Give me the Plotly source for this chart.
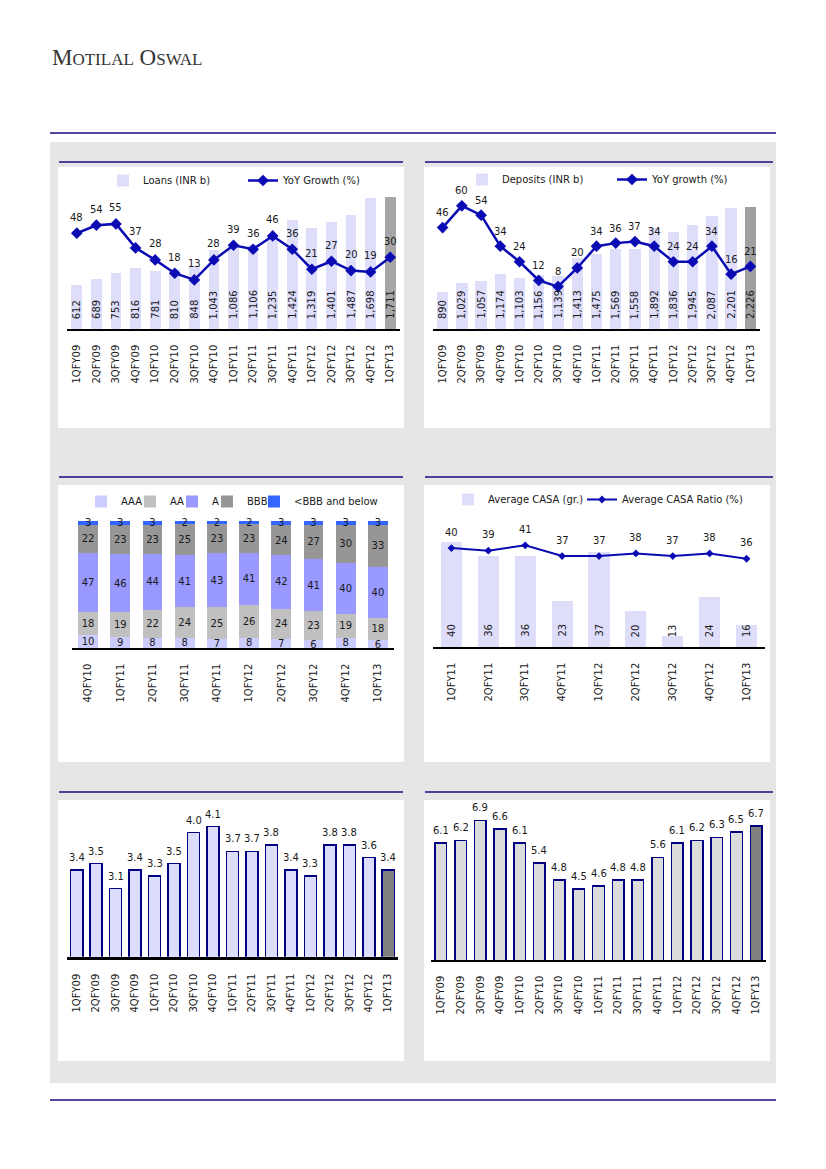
import plotly.graph_objects as go

W, H = 826, 1169


def px(x):
    return x / W


def py(y):
    return 1 - y / H


# ---------------- data ----------------
quarters17 = ["1QFY09", "2QFY09", "3QFY09", "4QFY09", "1QFY10", "2QFY10", "3QFY10", "4QFY10",
              "1QFY11", "2QFY11", "3QFY11", "4QFY11", "1QFY12", "2QFY12", "3QFY12", "4QFY12", "1QFY13"]
loans = [612, 689, 753, 816, 781, 810, 848, 1043, 1086, 1106, 1235, 1424, 1319, 1401, 1487, 1698, 1711]
loan_growth = [48, 54, 55, 37, 28, 18, 13, 28, 39, 36, 46, 36, 21, 27, 20, 19, 30]
deposits = [890, 1029, 1057, 1174, 1103, 1156, 1139, 1413, 1475, 1569, 1558, 1892, 1836, 1945, 2087, 2201, 2226]
deposit_growth = [46, 60, 54, 34, 24, 12, 8, 20, 34, 36, 37, 34, 24, 24, 34, 16, 21]

rating_quarters = ["4QFY10", "1QFY11", "2QFY11", "3QFY11", "4QFY11", "1QFY12", "2QFY12", "3QFY12", "4QFY12", "1QFY13"]
rating_names = ["AAA", "AA", "A", "BBB", "<BBB and below"]
rating_aaa = [10, 9, 8, 8, 7, 8, 7, 6, 8, 6]
rating_aa = [18, 19, 22, 24, 25, 26, 24, 23, 19, 18]
rating_a = [47, 46, 44, 41, 43, 41, 42, 41, 40, 40]
rating_bbb = [22, 23, 23, 25, 23, 23, 24, 27, 30, 33]
rating_below = [3, 3, 3, 2, 2, 2, 3, 3, 3, 3]

casa_quarters = ["1QFY11", "2QFY11", "3QFY11", "4QFY11", "1QFY12", "2QFY12", "3QFY12", "4QFY12", "1QFY13"]
casa_growth = [40, 36, 36, 23, 37, 20, 13, 24, 16]
casa_ratio = [40, 39, 41, 37, 37, 38, 37, 38, 36]

left_bottom_vals = [3.4, 3.5, 3.1, 3.4, 3.3, 3.5, 4.0, 4.1, 3.7, 3.7, 3.8, 3.4, 3.3, 3.8, 3.8, 3.6, 3.4]
right_bottom_vals = [6.1, 6.2, 6.9, 6.6, 6.1, 5.4, 4.8, 4.5, 4.6, 4.8, 4.8, 5.6, 6.1, 6.2, 6.3, 6.5, 6.7]

# ---------------- styles ----------------
FONT = "DejaVu Sans"
TXT = "#1a1a1a"
NAVY = "#170a7e"
LINE_BLUE = "#0b0bb4"
LAV = "#dedefa"

fig = go.Figure()

# ---- chart 1: loans ----
c1_colors = [LAV] * (len(loans) - 1) + ["#a6a6a6"]
fig.add_trace(go.Bar(x=quarters17, y=loans, name="Loans (INR b)", marker=dict(color=c1_colors, line=dict(width=0)),
                     width=0.55, xaxis="x", yaxis="y", legend="legend", hoverinfo="skip"))
fig.add_trace(go.Scatter(x=quarters17, y=loan_growth, name="YoY Growth (%)", mode="lines+markers",
                         line=dict(color=LINE_BLUE, width=2.5), marker=dict(symbol="diamond", size=9, color=LINE_BLUE),
                         xaxis="x", yaxis="y2", legend="legend2", cliponaxis=False))

# ---- chart 2: deposits ----
c2_colors = [LAV] * (len(deposits) - 1) + ["#a0a0a0"]
fig.add_trace(go.Bar(x=quarters17, y=deposits, name="Deposits (INR b)", marker=dict(color=c2_colors, line=dict(width=0)),
                     width=0.59, xaxis="x2", yaxis="y3", legend="legend3"))
fig.add_trace(go.Scatter(x=quarters17, y=deposit_growth, name="YoY growth (%)", mode="lines+markers",
                         line=dict(color=LINE_BLUE, width=2.5), marker=dict(symbol="diamond", size=9, color=LINE_BLUE),
                         xaxis="x2", yaxis="y4", legend="legend4", cliponaxis=False))

# ---- chart 3: rating mix ----
rating_series = [rating_aaa, rating_aa, rating_a, rating_bbb, rating_below]
rating_colors = ["#ccccff", "#c0c0c0", "#9999ff", "#969696", "#3366ff"]
for i, (nm, vals, col) in enumerate(zip(rating_names, rating_series, rating_colors)):
    fig.add_trace(go.Bar(x=rating_quarters, y=vals, name=nm, marker=dict(color=col, line=dict(width=0)),
                         width=0.62, text=[str(v) for v in vals], textposition="inside",
                         insidetextanchor="middle", textangle=0, constraintext="none",
                         textfont=dict(family=FONT, size=10, color=TXT),
                         insidetextfont=dict(family=FONT, size=10, color=TXT),
                         xaxis="x3", yaxis="y5", legend="legend%d" % (5 + i), cliponaxis=False))

# ---- chart 4: CASA ----
fig.add_trace(go.Bar(x=casa_quarters, y=casa_growth, name="Average CASA (gr.)", marker=dict(color=LAV, line=dict(width=0)),
                     width=0.57, xaxis="x4", yaxis="y6", legend="legend10"))
fig.add_trace(go.Scatter(x=casa_quarters, y=casa_ratio, name="Average CASA Ratio (%)", mode="lines+markers",
                         line=dict(color=LINE_BLUE, width=2), marker=dict(symbol="diamond", size=6, color=LINE_BLUE),
                         xaxis="x4", yaxis="y7", legend="legend11", cliponaxis=False))

# ---- chart 5 ----
c5_colors = ["#dcdcfc"] * (len(left_bottom_vals) - 1) + ["#808080"]
fig.add_trace(go.Bar(x=quarters17, y=left_bottom_vals, marker=dict(color=c5_colors, line=dict(color="#000080", width=1.5)),
                     width=0.62, xaxis="x5", yaxis="y8", showlegend=False))

# ---- chart 6 ----
c6_colors = ["#dcdcdc"] * (len(right_bottom_vals) - 1) + ["#808080"]
fig.add_trace(go.Bar(x=quarters17, y=right_bottom_vals, marker=dict(color=c6_colors, line=dict(color="#000080", width=1.5)),
                     width=0.59, xaxis="x6", yaxis="y9", showlegend=False))

# ---------------- annotations (data labels) ----------------
ann = []
lab_font = dict(family=FONT, size=10, color=TXT)

Y1_RANGE = [60, 1795]
Y2_RANGE = [-23.8, 80.4]
Y3_RANGE = [303, 2489]
Y4_RANGE = [-19.3, 70.2]
Y6_RANGE = [9.77, 44.8]
Y7_RANGE = [3.06, 48.6]
Y8_RANGE = [2, 4.5]
Y9_RANGE = [2, 7.51]


def rotated_bar_labels(cats, vals, xref, yref, ymin):
    for c, v in zip(cats, vals):
        ann.append(dict(x=c, y=ymin, xref=xref, yref=yref, text="{:,}".format(v), textangle=-90,
                        showarrow=False, yanchor="bottom", yshift=8, font=lab_font))


def line_labels(cats, vals, xref, yref, shift):
    for c, v in zip(cats, vals):
        ann.append(dict(x=c, y=v, xref=xref, yref=yref, text=str(v), showarrow=False,
                        yanchor="middle", yshift=shift, font=lab_font))


def top_labels(cats, vals, xref, yref):
    for c, v in zip(cats, vals):
        ann.append(dict(x=c, y=v, xref=xref, yref=yref, text="%.1f" % v, showarrow=False,
                        yanchor="bottom", yshift=5, font=lab_font))


rotated_bar_labels(quarters17, loans, "x", "y", Y1_RANGE[0])
line_labels(quarters17, loan_growth, "x", "y2", 16)
rotated_bar_labels(quarters17, deposits, "x2", "y3", Y3_RANGE[0])
line_labels(quarters17, deposit_growth, "x2", "y4", 15)
rotated_bar_labels(casa_quarters, casa_growth, "x4", "y6", Y6_RANGE[0])
line_labels(casa_quarters, casa_ratio, "x4", "y7", 16)
top_labels(quarters17, left_bottom_vals, "x5", "y8")
top_labels(quarters17, right_bottom_vals, "x6", "y9")

# header
ann.append(dict(x=px(50), y=py(58), xref="paper", yref="paper", xanchor="left", yanchor="middle", showarrow=False,
                text="M<span style='font-size:17px'>OTILAL</span> O<span style='font-size:17px'>SWAL</span>",
                font=dict(family="Liberation Serif", size=23, color="#333333")))

# ---------------- shapes (page decoration) ----------------
shapes = []


def rect(x0, y0, x1, y1, color):
    shapes.append(dict(type="rect", xref="paper", yref="paper", x0=px(x0), x1=px(x1), y0=py(y1), y1=py(y0),
                       fillcolor=color, line=dict(width=0), layer="below"))


def hline(x0, x1, y, width=1.5):
    shapes.append(dict(type="line", xref="paper", yref="paper", x0=px(x0), x1=px(x1), y0=py(y), y1=py(y),
                       line=dict(color=NAVY, width=width), layer="below"))


rect(50, 142, 776, 1083, "#e6e6e6")
for (ya, yb) in [(167, 428), (485, 762), (800, 1061)]:
    rect(58, ya, 404, yb, "#ffffff")
    rect(424, ya, 770, yb, "#ffffff")
hline(50, 776, 133, 1.5)
hline(50, 776, 1100, 1.5)
for yl in [162, 477, 792]:
    hline(59, 403, yl, 1.3)
    hline(425, 773, yl, 1.3)

# ---------------- axes ----------------
tickfont = dict(family=FONT, size=10, color=TXT)


def xax(x0, x1, anchor, n, lw=1.5):
    return dict(domain=[px(x0), px(x1)], anchor=anchor, type="category", range=[-0.5, n - 0.5],
                showline=True, linecolor="#000000", linewidth=lw, ticks="", tickangle=-90,
                tickfont=tickfont, ticklabelstandoff=10, showgrid=False, zeroline=False, fixedrange=True)


def yax(ybot, ytop, rng, anchor, overlay=None):
    d = dict(domain=[py(ybot), py(ytop)], range=rng, visible=False, showgrid=False, zeroline=False,
             anchor=anchor, fixedrange=True)
    if overlay:
        d = dict(range=rng, visible=False, showgrid=False, zeroline=False, anchor=anchor,
                 overlaying=overlay, fixedrange=True)
    return d


layout = dict(
    width=W, height=H, margin=dict(l=0, r=0, t=0, b=0),
    paper_bgcolor="#ffffff", plot_bgcolor="rgba(0,0,0,0)",
    font=dict(family=FONT, size=10, color=TXT),
    barmode="stack", bargap=0.4,
    xaxis=xax(67, 400, "y", 17),
    yaxis=yax(329, 190, Y1_RANGE, "x"),
    yaxis2=yax(329, 190, Y2_RANGE, "x", overlay="y"),
    xaxis2=xax(433, 760, "y3", 17),
    yaxis3=yax(329, 190, Y3_RANGE, "x2"),
    yaxis4=yax(329, 190, Y4_RANGE, "x2", overlay="y3"),
    xaxis3=xax(72, 394, "y5", 10),
    yaxis5=yax(648, 521, [0, 100], "x3"),
    xaxis4=xax(433, 765, "y6", 9),
    yaxis6=yax(647, 525, Y6_RANGE, "x4"),
    yaxis7=yax(647, 525, Y7_RANGE, "x4", overlay="y6"),
    xaxis5=xax(67, 398, "y8", 17, lw=3),
    yaxis8=yax(956.7, 801.7, Y8_RANGE, "x5"),
    xaxis6=xax(431, 766, "y9", 17),
    yaxis9=yax(960, 803, Y9_RANGE, "x6"),
    annotations=ann, shapes=shapes, showlegend=True,
)

# legends: (text start x, centre y)
legend_pos = {
    "legend": (143, 180.5), "legend2": (283, 180.5),
    "legend3": (502, 179.5), "legend4": (652, 179.5),
    "legend5": (121, 501.5), "legend6": (170, 501.5), "legend7": (212, 501.5),
    "legend8": (247, 501.5), "legend9": (294, 501.5),
    "legend10": (488, 499.5), "legend11": (622, 499.5),
}
for key, (xt, yc) in legend_pos.items():
    layout[key] = dict(x=px(xt - 40), y=py(yc), xanchor="left", yanchor="middle", orientation="h",
                       bgcolor="rgba(0,0,0,0)", borderwidth=0, font=dict(family=FONT, size=10, color=TXT),
                       itemclick=False, itemdoubleclick=False)

fig.update_layout(**layout)
fig.write_html("out.html", config={"displayModeBar": False},
               post_script="document.body.style.margin='0';document.body.style.overflow='hidden';")
